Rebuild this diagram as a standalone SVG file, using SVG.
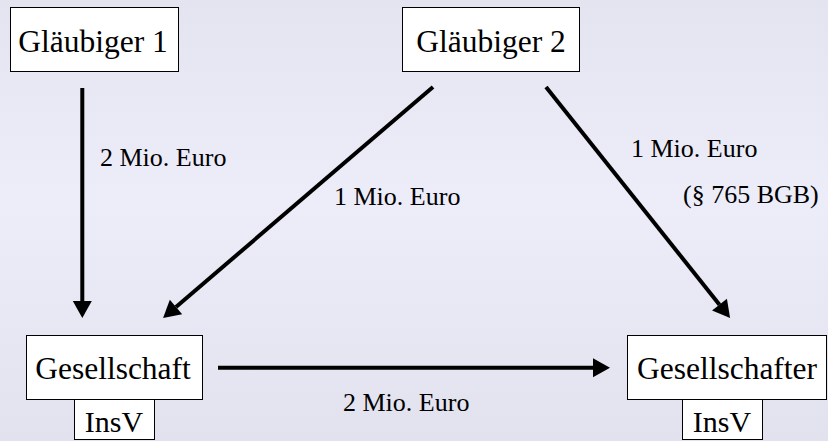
<svg xmlns="http://www.w3.org/2000/svg" width="828" height="441" viewBox="0 0 828 441">
<defs>
<linearGradient id="bg" x1="0" y1="0" x2="0" y2="1">
<stop offset="0" stop-color="#e4e4f0"/>
<stop offset="0.45" stop-color="#ededfa"/>
<stop offset="1" stop-color="#e2e2ee"/>
</linearGradient>
<marker id="ah" markerUnits="userSpaceOnUse" markerWidth="17" markerHeight="19" refX="0" refY="9.5" orient="auto" overflow="visible">
<path d="M0,0 L17,9.5 L0,19 Z" fill="#000"/>
</marker>
<style>
.box{fill:#fff;stroke:#000;stroke-width:1}
text{font-family:'Liberation Serif','Times New Roman',serif;fill:#000}
.nt{font-size:31.5px;text-anchor:middle}
.st{font-size:30px;text-anchor:middle}
.lb{font-size:26px}
.ar{stroke:#000;stroke-width:4;fill:none;marker-end:url(#ah)}
</style>
</defs>
<rect width="828" height="441" fill="url(#bg)"/>
<g id="glaeubiger1">
<rect class="box" x="10.5" y="7.5" width="168" height="64"/>
<text class="nt" x="93" y="52">Gläubiger 1</text>
</g>
<g id="glaeubiger2">
<rect class="box" x="402.5" y="7.5" width="177" height="64"/>
<text class="nt" x="491" y="52">Gläubiger 2</text>
</g>
<g id="gesellschaft">
<rect class="box" x="26.5" y="335.5" width="176" height="64"/>
<text class="nt" x="113" y="379">Gesellschaft</text>
<rect class="box" x="74.5" y="399.5" width="80" height="40"/>
<text class="st" x="114" y="432">InsV</text>
</g>
<g id="gesellschafter">
<rect class="box" x="627.5" y="335.5" width="199" height="64"/>
<text class="nt" x="727" y="379">Gesellschafter</text>
<rect class="box" x="682.5" y="399.5" width="80" height="40"/>
<text class="st" x="722" y="432">InsV</text>
</g>
<g id="connectors">
<line class="ar" x1="82.3" y1="88" x2="82.3" y2="301"/>
<line class="ar" x1="433" y1="87" x2="176" y2="307"/>
<line class="ar" x1="546" y1="87" x2="719.5" y2="304.7"/>
<line class="ar" x1="218" y1="367.7" x2="593" y2="367.7"/>
<text class="lb" x="100" y="166">2 Mio. Euro</text>
<text class="lb" x="334" y="205">1 Mio. Euro</text>
<text class="lb" x="631" y="157">1 Mio. Euro</text>
<text class="lb" x="683" y="203">(§ 765 BGB)</text>
<text class="lb" x="343" y="411">2 Mio. Euro</text>
</g>
</svg>
